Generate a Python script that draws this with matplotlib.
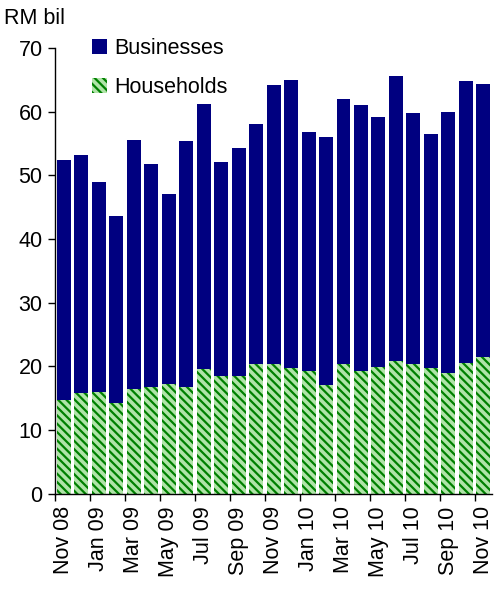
import matplotlib
matplotlib.use("Agg")
import matplotlib.pyplot as plt
import numpy as np

months = ["Nov 08", "Dec 08", "Jan 09", "Feb 09", "Mar 09", "Apr 09", "May 09", "Jun 09",
          "Jul 09", "Aug 09", "Sep 09", "Oct 09", "Nov 09", "Dec 09", "Jan 10", "Feb 10",
          "Mar 10", "Apr 10", "May 10", "Jun 10", "Jul 10", "Aug 10", "Sep 10", "Oct 10", "Nov 10"]
totals = [52.4, 53.1, 49.0, 43.6, 55.6, 51.8, 47.1, 55.3, 61.2, 52.1, 54.3, 58.1, 64.2,
          65.0, 56.8, 56.0, 61.9, 61.0, 59.2, 65.5, 59.8, 56.5, 60.0, 64.8, 64.3]
households = [14.8, 15.9, 16.0, 14.3, 16.5, 16.7, 17.3, 16.7, 19.6, 18.5, 18.5, 20.4, 20.3,
              19.8, 19.2, 17.1, 20.3, 19.3, 19.9, 20.9, 20.3, 19.8, 19.0, 20.6, 21.5]
businesses = [round(t - h, 1) for t, h in zip(totals, households)]

plt.rcParams['font.family'] = ['Liberation Sans', 'DejaVu Sans']
plt.rcParams['hatch.linewidth'] = 1.6

FS = 15.5

fig = plt.figure(figsize=(4.97, 5.90), dpi=100)
ax = fig.add_axes([0.111, 0.163, 0.879, 0.756])

x = np.arange(len(months))
hh = ax.bar(x, households, width=0.8, color='#b0e4a8', edgecolor='#008000',
            linewidth=0, hatch='\\\\\\\\', label='Households')
bb = ax.bar(x, businesses, width=0.8, bottom=households, color='#000080',
            linewidth=0, label='Businesses')

ax.set_xlim(-0.5, len(months) - 0.5)
ax.set_ylim(0, 70)
ax.set_yticks(range(0, 71, 10))
ax.tick_params(axis='y', labelsize=FS, length=5, width=1, direction='out', pad=4)

# tick marks at boundaries every two months, labels at bar centres
ax.set_xticks(np.arange(-0.5, len(months) - 0.5, 2))
ax.set_xticklabels([])
ax.tick_params(axis='x', which='major', length=5, width=1, direction='out')
ax.set_xticks(x[::2], minor=True)
ax.set_xticklabels(months[::2], minor=True, rotation=90, fontsize=FS)
ax.tick_params(axis='x', which='minor', length=0, pad=9)

for s in ['top', 'right']:
    ax.spines[s].set_visible(False)
for s in ['left', 'bottom']:
    ax.spines[s].set_linewidth(1)

ax.legend([bb, hh], ['Businesses', 'Households'], loc='upper left',
          bbox_to_anchor=(0.04, 1.065), frameon=False, fontsize=FS,
          handlelength=0.7, handleheight=0.7, handletextpad=0.35, labelspacing=0.85)

fig.text(0.008, 0.968, 'RM bil', fontsize=FS, ha='left', va='center')

fig.savefig('out.png', dpi=100)
